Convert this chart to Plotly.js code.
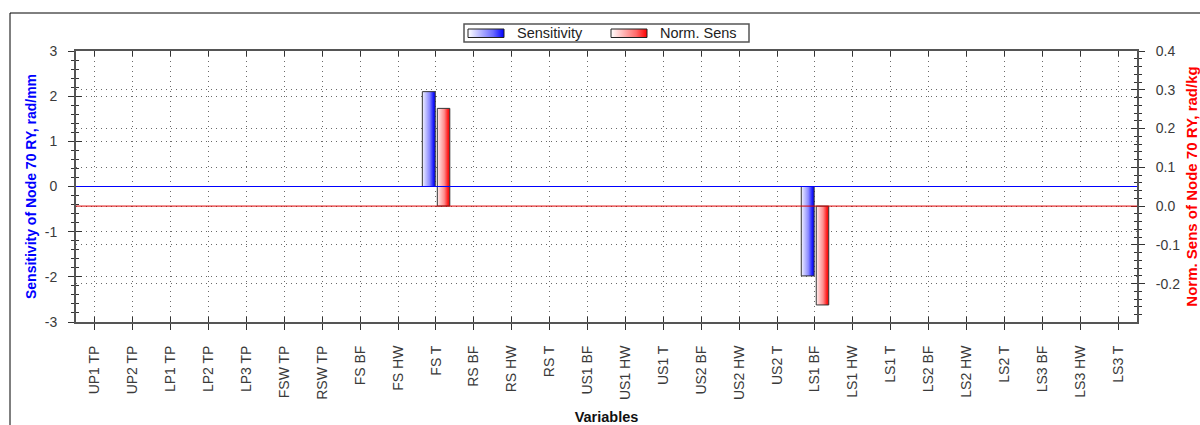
<!DOCTYPE html>
<html>
<head>
<meta charset="utf-8">
<script src="https://cdn.plot.ly/plotly-3.0.1.min.js"></script>
<style>
  html, body { margin: 0; padding: 0; background: #ffffff; }
  #chart { width: 1200px; height: 425px; }
</style>
</head>
<body>
<svg width="0" height="0" style="position:absolute">
  <defs>
    <linearGradient id="gradBlue" x1="0" y1="0" x2="1" y2="0">
      <stop offset="0" stop-color="#f2f2ff"/>
      <stop offset="0.55" stop-color="#8c8cff"/>
      <stop offset="0.85" stop-color="#1c1cff"/>
      <stop offset="1" stop-color="#0000f0"/>
    </linearGradient>
    <linearGradient id="gradRed" x1="0" y1="0" x2="1" y2="0">
      <stop offset="0" stop-color="#fff2f2"/>
      <stop offset="0.55" stop-color="#ff8c8c"/>
      <stop offset="0.85" stop-color="#ff1c1c"/>
      <stop offset="1" stop-color="#f00000"/>
    </linearGradient>
  </defs>
</svg>
<div id="chart"></div>
<script>
// ---- data ----
const categories = ["UP1 TP","UP2 TP","LP1 TP","LP2 TP","LP3 TP","FSW TP","RSW TP","FS BF","FS HW","FS T",
  "RS BF","RS HW","RS T","US1 BF","US1 HW","US1 T","US2 BF","US2 HW","US2 T","LS1 BF",
  "LS1 HW","LS1 T","LS2 BF","LS2 HW","LS2 T","LS3 BF","LS3 HW","LS3 T"];
// null = no visible bar for that variable
const sensitivity = [null,null,null,null,null,null,null,null,null,2.10,
  null,null,null,null,null,null,null,null,null,-1.98,
  null,null,null,null,null,null,null,null];
const normSens = [null,null,null,null,null,null,null,null,null,0.252,
  null,null,null,null,null,null,null,null,null,-0.255,
  null,null,null,null,null,null,null,null];
const seriesNames = ["Sensitivity", "Norm. Sens"];
const leftTickVals = [-3, -2, -1, 0, 1, 2, 3];
const leftTickText = ["-3", "-2", "-1", "0", "1", "2", "3"];
const rightTickVals = [-0.2, -0.1, 0, 0.1, 0.2, 0.3, 0.4];
const rightTickText = ["-0.2", "-0.1", "0.0", "0.1", "0.2", "0.3", "0.4"];
const leftTitle = "Sensitivity of Node 70 RY, rad/mm";
const rightTitle = "Norm. Sens of Node 70 RY, rad/kg";
const xTitle = "Variables";

// ---- layout helpers ----
const W = 1200, H = 425;
const M = {l: 76, r: 63, t: 51, b: 103};
const PW = W - M.l - M.r, PH = H - M.t - M.b;
const px = x => (x - M.l) / PW;
const py = y => (H - M.b - y) / PH;

const FONT = "Liberation Sans, Arial, sans-serif";
const tickFont = {family: FONT, size: 14, color: "#3a3a3a"};
const gridDash = "1px,4px";
const gridColor = "#6a6a6a";
const axisLine = "#555555";
const tickCol = "#333333";
const leftRange = [-3, 3];
const rightRange = [-0.299, 0.4];

const traces = [
  {
    type: "bar", name: seriesNames[0], x: categories, y: sensitivity,
    xaxis: "x", yaxis: "y", width: 0.34, offset: -0.36,
    marker: {color: "rgb(0,0,255)", line: {color: "#333333", width: 1}},
    showlegend: false, hoverinfo: "x+y"
  },
  {
    type: "bar", name: seriesNames[1], x: categories, y: normSens,
    xaxis: "x", yaxis: "y2", width: 0.33, offset: 0.035,
    marker: {color: "rgb(255,0,0)", line: {color: "#333333", width: 1}},
    showlegend: false, hoverinfo: "x+y"
  },
  // empty helper traces so that overlay tick axes get drawn
  {type: "scatter", x: [], y: [], xaxis: "x", yaxis: "y3", showlegend: false, hoverinfo: "skip"},
  {type: "scatter", x: [], y: [], xaxis: "x", yaxis: "y4", showlegend: false, hoverinfo: "skip"},
  {type: "scatter", x: [], y: [], xaxis: "x2", yaxis: "y", showlegend: false, hoverinfo: "skip"}
];

const legendBox = {x0: px(464), x1: px(749), y0: py(42), y1: py(24)};
const swBlue = {x0: px(468), x1: px(504), y0: py(37.5), y1: py(29)};
const swRed = {x0: px(611), x1: px(647), y0: py(37.5), y1: py(29)};

function gradSvg(c0, c1, c2) {
  const s = "<svg xmlns='http://www.w3.org/2000/svg' width='36' height='8' preserveAspectRatio='none'>" +
    "<defs><linearGradient id='g' x1='0' y1='0' x2='1' y2='0'>" +
    "<stop offset='0' stop-color='" + c0 + "'/><stop offset='0.7' stop-color='" + c1 + "'/>" +
    "<stop offset='1' stop-color='" + c2 + "'/></linearGradient></defs>" +
    "<rect x='0' y='0' width='36' height='8' fill='url(#g)'/></svg>";
  return "data:image/svg+xml;charset=utf-8," + encodeURIComponent(s);
}

const layout = {
  width: W, height: H,
  margin: M,
  paper_bgcolor: "#ffffff",
  plot_bgcolor: "#ffffff",
  font: {family: FONT, size: 14, color: "#333"},
  showlegend: false,
  barmode: "overlay",
  xaxis: {
    type: "category", range: [-0.5, categories.length - 0.5],
    tickangle: -90, tickfont: tickFont, ticklabelstandoff: 10,
    ticks: "outside", ticklen: 6, tickcolor: tickCol, tickwidth: 1,
    showline: true, linecolor: axisLine, linewidth: 2, mirror: true,
    showgrid: true, gridcolor: gridColor, griddash: gridDash, gridwidth: 1,
    zeroline: false, automargin: false, fixedrange: true,
    title: {text: xTitle, font: {family: FONT, size: 14.5, color: "#111", weight: "bold"}, standoff: 14}
  },
  xaxis2: {
    type: "linear", overlaying: "x", anchor: "y", side: "bottom",
    range: [-0.5, categories.length - 0.5], tickmode: "linear", tick0: 0, dtick: 1,
    ticks: "inside", ticklen: 5, tickcolor: tickCol, mirror: "ticks",
    showticklabels: false, showgrid: false, zeroline: false, showline: false, fixedrange: true
  },
  yaxis: {
    range: leftRange, tickmode: "array", tickvals: leftTickVals, ticktext: leftTickText,
    tickfont: tickFont, ticklabelstandoff: 8,
    ticks: "outside", ticklen: 6, tickcolor: tickCol, tickwidth: 1,
    minor: {tickmode: "linear", tick0: 0, dtick: 0.2, ticks: "outside", ticklen: 3, tickcolor: tickCol, showgrid: false},
    showline: true, linecolor: axisLine, linewidth: 2,
    showgrid: true, gridcolor: gridColor, griddash: gridDash, gridwidth: 1,
    zeroline: false, automargin: false, fixedrange: true,
    title: {text: leftTitle, font: {family: FONT, size: 14, color: "#0000ff", weight: "bold"}, standoff: 5}
  },
  yaxis2: {
    overlaying: "y", side: "right", anchor: "x",
    range: rightRange, tickmode: "array", tickvals: rightTickVals, ticktext: rightTickText,
    tickfont: tickFont, ticklabelstandoff: 8,
    ticks: "outside", ticklen: 6, tickcolor: tickCol, tickwidth: 1,
    minor: {tickmode: "linear", tick0: 0, dtick: 0.02, ticks: "outside", ticklen: 3, tickcolor: tickCol, showgrid: false},
    showline: true, linecolor: axisLine, linewidth: 2,
    showgrid: true, gridcolor: gridColor, griddash: gridDash, gridwidth: 1,
    zeroline: false, automargin: false, fixedrange: true,
    title: {text: rightTitle, font: {family: FONT, size: 15, color: "#ff0000", weight: "bold"}, standoff: 10}
  },
  yaxis3: {
    overlaying: "y", side: "left", anchor: "x",
    range: leftRange, tickmode: "linear", tick0: 0, dtick: 1,
    ticks: "inside", ticklen: 6, tickcolor: tickCol,
    minor: {dtick: 0.2, ticks: "inside", ticklen: 3, tickcolor: tickCol, showgrid: false},
    showticklabels: false, showgrid: false, zeroline: false, showline: false, fixedrange: true
  },
  yaxis4: {
    overlaying: "y", side: "right", anchor: "x",
    range: rightRange, tickmode: "linear", tick0: 0, dtick: 0.1,
    ticks: "inside", ticklen: 6, tickcolor: tickCol,
    minor: {dtick: 0.02, ticks: "inside", ticklen: 3, tickcolor: tickCol, showgrid: false},
    showticklabels: false, showgrid: false, zeroline: false, showline: false, fixedrange: true
  },
  shapes: [
    // outer frame
    {type: "rect", xref: "paper", yref: "paper", x0: px(10), x1: px(1215), y0: py(440), y1: py(13),
     line: {color: "#000000", width: 1}, fillcolor: "rgba(0,0,0,0)", layer: "below"},
    // zero reference lines of both value axes
    {type: "line", xref: "paper", yref: "y", x0: 0, x1: 1, y0: 0, y1: 0,
     line: {color: "#0000ff", width: 1}, layer: "above"},
    {type: "line", xref: "paper", yref: "y2", x0: 0, x1: 1, y0: 0, y1: 0,
     line: {color: "#dd0000", width: 1}, layer: "above"},
    // legend box
    {type: "rect", xref: "paper", yref: "paper", x0: legendBox.x0, x1: legendBox.x1, y0: legendBox.y0, y1: legendBox.y1,
     line: {color: "#555555", width: 1.5}, fillcolor: "rgba(0,0,0,0)", layer: "above"},
    // legend swatch borders (drawn over images)
    {type: "rect", xref: "paper", yref: "paper", x0: swBlue.x0, x1: swBlue.x1, y0: swBlue.y0, y1: swBlue.y1,
     line: {color: "#222222", width: 1}, fillcolor: "rgba(0,0,0,0)", layer: "above"},
    {type: "rect", xref: "paper", yref: "paper", x0: swRed.x0, x1: swRed.x1, y0: swRed.y0, y1: swRed.y1,
     line: {color: "#222222", width: 1}, fillcolor: "rgba(0,0,0,0)", layer: "above"}
  ],
  images: [
    {source: gradSvg("#ffffff", "#6a6aff", "#0000ff"), xref: "paper", yref: "paper",
     x: swBlue.x0, y: swBlue.y1, sizex: swBlue.x1 - swBlue.x0, sizey: swBlue.y1 - swBlue.y0,
     xanchor: "left", yanchor: "top", sizing: "stretch", layer: "above"},
    {source: gradSvg("#ffffff", "#ff6a6a", "#ff0000"), xref: "paper", yref: "paper",
     x: swRed.x0, y: swRed.y1, sizex: swRed.x1 - swRed.x0, sizey: swRed.y1 - swRed.y0,
     xanchor: "left", yanchor: "top", sizing: "stretch", layer: "above"}
  ],
  annotations: [
    {text: seriesNames[0], xref: "paper", yref: "paper", x: px(515), y: py(33),
     xanchor: "left", yanchor: "middle", showarrow: false,
     font: {family: FONT, size: 14.5, color: "#222"}},
    {text: seriesNames[1], xref: "paper", yref: "paper", x: px(658), y: py(33),
     xanchor: "left", yanchor: "middle", showarrow: false,
     font: {family: FONT, size: 14.5, color: "#222"}}
  ]
};

Plotly.newPlot("chart", traces, layout, {staticPlot: true, displayModeBar: false}).then(gd => {
  gd.querySelectorAll("g.trace.bars path").forEach(p => {
    const f = (p.style.fill || "").replace(/\s/g, "");
    if (f === "rgb(0,0,255)") p.style.fill = "url(#gradBlue)";
    else if (f === "rgb(255,0,0)") p.style.fill = "url(#gradRed)";
  });
});
</script>
</body>
</html>
